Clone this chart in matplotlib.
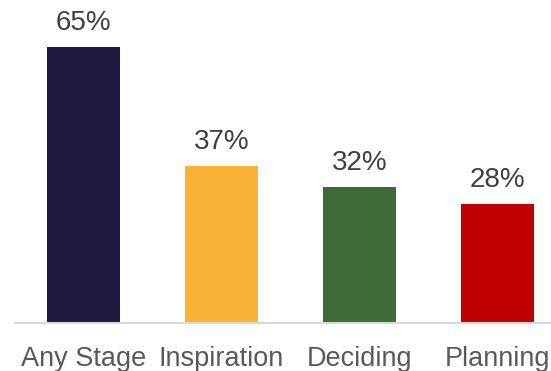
import matplotlib.pyplot as plt

categories = ['Any Stage', 'Inspiration', 'Deciding', 'Planning']
values = [65, 37, 32, 28]
colors = ['#201840', '#F9B236', '#3E6A37', '#C00000']

plt.rcParams['font.family'] = ['Liberation Sans', 'DejaVu Sans']

fig = plt.figure(figsize=(5.51, 3.71), dpi=100)
ax = fig.add_axes([15 / 551, 48 / 371, 536 / 551, 297 / 371])

x = range(len(categories))
ax.bar(x, values, width=0.529, color=colors, zorder=2)

for xi, v in zip(x, values):
    ax.annotate(f'{v}%', (xi, v), xytext=(0, 12.2), textcoords='offset points',
                ha='center', va='baseline', fontsize=20, color='#404040')

ax.set_xlim(-0.496, 3.388)
ax.set_ylim(0, 70)
ax.set_xticks(list(x))
ax.set_xticklabels(categories, fontsize=19.5, color='#595959')
ax.tick_params(axis='x', length=0, pad=16.5)
ax.set_yticks([])
for side in ['top', 'right', 'left']:
    ax.spines[side].set_visible(False)
ax.spines['bottom'].set_color('#D9D9D9')
ax.spines['bottom'].set_linewidth(1.5)

fig.savefig('out.png', dpi=100)
